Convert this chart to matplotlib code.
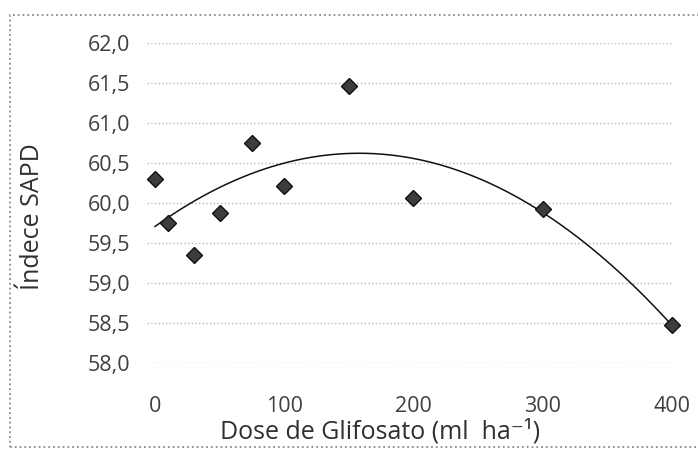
import numpy as np
import matplotlib.pyplot as plt
from matplotlib.patches import Rectangle

# dose de glifosato (ml/ha) e indice SAPD
dose = [0, 10, 30, 50, 75, 100, 150, 200, 300, 400]
sapd = [60.3, 59.75, 59.35, 59.87, 60.75, 60.21, 61.46, 60.06, 59.92, 58.47]
x_ticks = [0, 100, 200, 300, 400]
y_ticks = [58.0, 58.5, 59.0, 59.5, 60.0, 60.5, 61.0, 61.5, 62.0]

plt.rcParams['font.family'] = ['Open Sans', 'DejaVu Sans']

fig = plt.figure(figsize=(6.98, 4.49), dpi=100)
ax = fig.add_axes([0.2106, 0.1915, 0.752, 0.7127])

# moldura do grafico
fig.patches.append(Rectangle((0.0145, 0.004), 1.05, 0.963, transform=fig.transFigure,
                             fill=False, edgecolor='#8a8a8a', linestyle=':', linewidth=1.3))

# ajuste polinomial de 2o grau
coef = np.polyfit(dose, sapd, 2)
xs = np.linspace(0, 400, 200)
ax.plot(xs, np.polyval(coef, xs), color='#111111', linewidth=1.1, zorder=2)

ax.plot(dose, sapd, linestyle='none', marker='D', markersize=8.5,
        markerfacecolor='#3c3c3c', markeredgecolor='#111111', zorder=3,
        clip_on=False)

ax.set_xlim(-6.2, 400)
ax.set_ylim(58.0, 62.0)
ax.set_xticks(x_ticks)
ax.set_yticks(y_ticks)
ax.set_yticklabels([f'{v:.1f}'.replace('.', ',') for v in y_ticks])
ax.grid(axis='y', color='#b8b8b8', linestyle=':', linewidth=1.0)
ax.set_axisbelow(True)
for s in ax.spines.values():
    s.set_visible(False)
ax.tick_params(axis='both', length=0, labelsize=15.5, labelcolor='#404040')
ax.tick_params(axis='x', pad=23.5)
ax.tick_params(axis='y', pad=12)

ax.set_ylabel('Índece SAPD', fontsize=18, color='#303030')
ax.set_xlabel('Dose de Glifosato (ml  ha⁻¹)', fontsize=18, color='#303030')
ax.yaxis.set_label_coords(-0.194, 0.456)
ax.xaxis.set_label_coords(0.444, -0.176)

fig.savefig('out.png', dpi=100)
